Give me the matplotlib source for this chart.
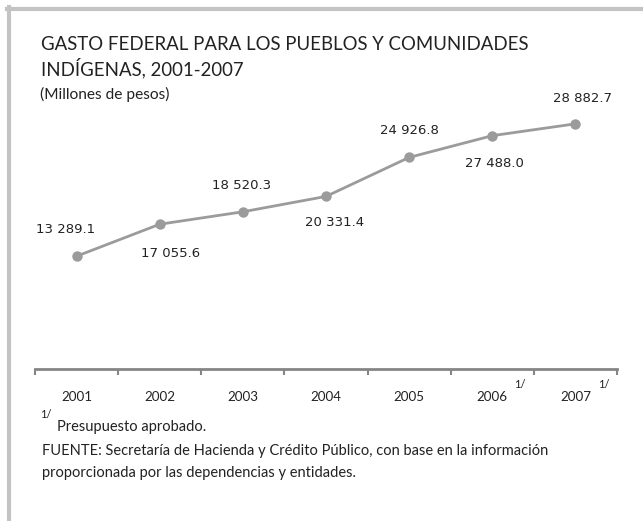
"""Gasto federal para los pueblos y comunidades indígenas, 2001-2007."""

import matplotlib
matplotlib.use("Agg")
import matplotlib.pyplot as plt
from matplotlib.lines import Line2D

years = ["2001", "2002", "2003", "2004", "2005", "2006", "2007"]
gasto = [13289.1, 17055.6, 18520.3, 20331.4, 24926.8, 27488.0, 28882.7]
labels = ["13 289.1", "17 055.6", "18 520.3", "20 331.4", "24 926.8", "27 488.0", "28 882.7"]
# label offsets (pixels) relative to each point
label_off = [(-11, 27), (11, -29), (-1, 26), (9, -26), (0, 27), (2, -28), (7, 25)]
superscript_years = ["2006", "2007"]

W, H, DPI = 643, 521, 100
LINE_GRAY = "#9b9b9b"
AXIS_GRAY = "#858585"
BORDER = "#c3c3c3"
TEXT = "#222222"
HUM = ["Lato", "DejaVu Sans"]


def fy(y):
    return 1 - y / H


fig = plt.figure(figsize=(W / DPI, H / DPI), dpi=DPI)

# frame lines (top and left)
fig.add_artist(Line2D([7 / W, 1], [fy(9), fy(9)], color=BORDER, lw=3))
fig.add_artist(Line2D([9 / W, 9 / W], [fy(7), 0], color=BORDER, lw=3))

ax = fig.add_axes([35 / W, fy(369), (617 - 35) / W, (369 - 100) / H])
x = list(range(len(years)))
ax.plot(x, gasto, color=LINE_GRAY, lw=2, marker="o", ms=7.5,
        markeredgewidth=0, clip_on=False)
ax.set_xlim(-0.5, len(years) - 0.5)
ax.set_ylim(0, 31690)

for xi, v, lab, (dx, dy) in zip(x, gasto, labels, label_off):
    ax.annotate(lab, (xi, v), xytext=(dx, dy), textcoords="offset pixels",
                ha="center", va="center", fontsize=9.5, color=TEXT,
                family="DejaVu Sans")

for s in ["top", "right", "left"]:
    ax.spines[s].set_visible(False)
ax.spines["bottom"].set_color(AXIS_GRAY)
ax.spines["bottom"].set_linewidth(2)
ax.set_yticks([])
ax.set_xticks([i - 0.5 for i in range(len(years) + 1)])
ax.set_xticklabels([])
ax.tick_params(axis="x", length=4, width=1.5, color=AXIS_GRAY, direction="out")

xaxis_tr = ax.get_xaxis_transform()
for xi, yr in zip(x, years):
    ax.annotate(yr, (xi, 0), xycoords=xaxis_tr, xytext=(0, -32),
                textcoords="offset pixels", ha="center", va="baseline",
                fontsize=9.6, color=TEXT, family=HUM)
    if yr in superscript_years:
        ax.annotate("1/", (xi, 0), xycoords=xaxis_tr, xytext=(28, -19),
                    textcoords="offset pixels", ha="center", va="baseline",
                    fontsize=8, color=TEXT, family=HUM)

fig.text(41 / W, fy(50), "GASTO FEDERAL PARA LOS PUEBLOS Y COMUNIDADES",
         fontsize=13.4, color=TEXT, family=HUM, va="baseline")
fig.text(41 / W, fy(75), "INDÍGENAS, 2001-2007",
         fontsize=13.4, color=TEXT, family=HUM, va="baseline")
fig.text(40 / W, fy(99), "(Millones de pesos)",
         fontsize=11.2, color=TEXT, family=HUM, va="baseline")

fig.text(40 / W, fy(418), "1/", fontsize=8, color=TEXT, family=HUM, va="baseline")
fig.text(57 / W, fy(431.5), "Presupuesto aprobado.",
         fontsize=10.5, color=TEXT, family=HUM, va="baseline")
fig.text(41.5 / W, fy(454.5),
         "FUENTE: Secretaría de Hacienda y Crédito Público, con base en la información",
         fontsize=10.5, color=TEXT, family=HUM, va="baseline")
fig.text(41.5 / W, fy(477.5), "proporcionada por las dependencias y entidades.",
         fontsize=10.5, color=TEXT, family=HUM, va="baseline")

fig.savefig("out.png", dpi=DPI)
